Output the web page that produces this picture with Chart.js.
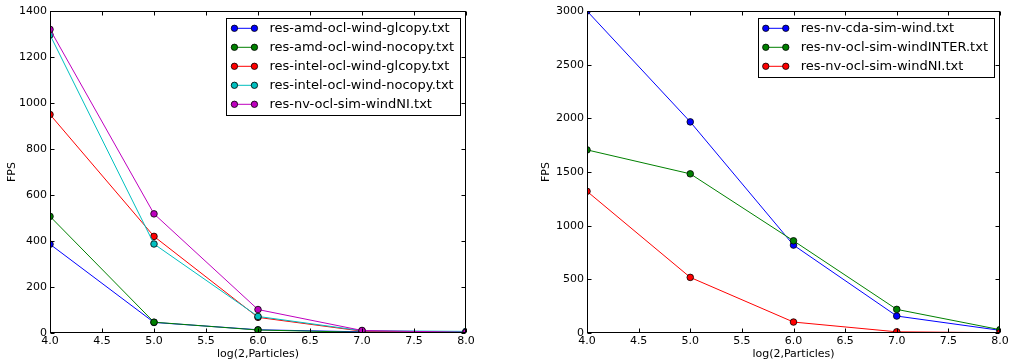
<!DOCTYPE html>
<html>
<head>
<meta charset="utf-8">
<script src="https://cdn.jsdelivr.net/npm/chart.js@4.4.1/dist/chart.umd.min.js"></script>
<style>
  html, body { margin: 0; padding: 0; background: #fff; }
  #wrap { position: relative; width: 1015px; height: 364px; overflow: hidden; }
  canvas { position: absolute; top: 0; }
  #c1 { left: 0; }
  #c2 { left: 520px; }
</style>
</head>
<body>
<div id="wrap">
  <canvas id="c1" width="480" height="364"></canvas>
  <canvas id="c2" width="495" height="364"></canvas>
</div>
<script>
// log2 of particle count
const particleLog2 = [4, 5, 6, 7, 8];

// FPS per run file
const amdOclWindGlcopy   = [386, 46, 14, 5, 4];
const amdOclWindNocopy   = [507, 47, 13, 3, 3];
const intelOclWindGlcopy = [950, 420, 68, 8, 3];
const intelOclWindNocopy = [1296, 387, 72, 10, 7];
const nvOclSimWindNI     = [1320, 518, 102, 11, 3];
const nvCdaSimWind       = [3000, 1967, 819, 158, 25];
const nvOclSimWindINTER  = [1706, 1483, 859, 220, 31];

const leftLabels  = ['res-amd-ocl-wind-glcopy.txt', 'res-amd-ocl-wind-nocopy.txt',
                     'res-intel-ocl-wind-glcopy.txt', 'res-intel-ocl-wind-nocopy.txt',
                     'res-nv-ocl-sim-windNI.txt'];
const rightLabels = ['res-nv-cda-sim-wind.txt', 'res-nv-ocl-sim-windINTER.txt',
                     'res-nv-ocl-sim-windNI.txt'];

const xTicks = [4.0, 4.5, 5.0, 5.5, 6.0, 6.5, 7.0, 7.5, 8.0];
const leftYTicks  = [0, 200, 400, 600, 800, 1000, 1200, 1400];
const rightYTicks = [0, 500, 1000, 1500, 2000, 2500, 3000];

const BLUE = '#0000ff', GREEN = '#008000', RED = '#ff0000', CYAN = '#00bfbf', MAGENTA = '#bf00bf';
const FONT = 'DejaVu Sans';

function series(label, values, color, i) {
  return {
    label,
    data: values.map((v, k) => ({ x: particleLog2[k], y: v })),
    showLine: true,
    borderColor: color,
    backgroundColor: color,
    borderWidth: 1,
    pointRadius: 3.3,
    pointBorderColor: '#000',
    pointBorderWidth: 0.8,
    pointBackgroundColor: color,
    clip: 0,
    order: -i
  };
}

// Axes frame plus inward tick marks on all four sides
const frameTicks = {
  id: 'frameTicks',
  afterDatasetsDraw(chart) {
    const { ctx, chartArea: a, scales } = chart;
    ctx.save();
    ctx.strokeStyle = '#000';
    ctx.lineWidth = 1;
    const L = Math.round(a.left) + 0.5, R = Math.round(a.right) - 0.5;
    const T = Math.round(a.top) + 0.5, B = Math.round(a.bottom) - 0.5;
    ctx.beginPath();
    const len = 4;
    scales.x.ticks.forEach(t => {
      const px = Math.round(scales.x.getPixelForValue(t.value)) + 0.5;
      ctx.moveTo(px, B); ctx.lineTo(px, B - len);
      ctx.moveTo(px, T); ctx.lineTo(px, T + len);
    });
    scales.y.ticks.forEach(t => {
      const py = Math.round(scales.y.getPixelForValue(t.value)) + 0.5;
      ctx.moveTo(L, py); ctx.lineTo(L + len, py);
      ctx.moveTo(R, py); ctx.lineTo(R - len, py);
    });
    ctx.stroke();
    ctx.strokeRect(L, T, R - L, B - T);
    ctx.restore();
  }
};

// Boxed legend in the upper-right corner of the plot area
const boxLegend = {
  id: 'boxLegend',
  afterDraw(chart) {
    const { ctx, chartArea: a } = chart;
    const sets = chart.data.datasets;
    ctx.save();
    ctx.font = '13px "' + FONT + '"';
    const textW = Math.max(...sets.map(d => ctx.measureText(d.label).width));
    const padL = 8, lineLen = 20, gap = 15, padR = 6, rowH = 19;
    const w = padL + lineLen + gap + textW + padR;
    const h = rowH * sets.length + 1.5;
    const right = a.right - 6;
    const left = right - w;
    const top = a.top + 6.7;
    ctx.fillStyle = '#fff';
    ctx.fillRect(left, top, w, h);
    ctx.strokeStyle = '#000';
    ctx.lineWidth = 1;
    ctx.strokeRect(Math.round(left) + 0.5, Math.round(top) + 0.5, Math.round(w), Math.round(h));
    sets.forEach((d, i) => {
      const cy = top + 10.6 + i * rowH;
      const x0 = left + padL, x1 = x0 + lineLen;
      ctx.strokeStyle = d.borderColor;
      ctx.lineWidth = 1;
      ctx.beginPath(); ctx.moveTo(x0, cy); ctx.lineTo(x1, cy); ctx.stroke();
      [x0, x1].forEach(px => {
        ctx.beginPath();
        ctx.arc(px, cy, 3.2, 0, Math.PI * 2);
        ctx.fillStyle = d.borderColor; ctx.fill();
        ctx.strokeStyle = '#000'; ctx.lineWidth = 0.8; ctx.stroke();
      });
      ctx.fillStyle = '#000';
      ctx.textBaseline = 'middle';
      ctx.textAlign = 'left';
      ctx.fillText(d.label, x1 + gap, cy + 0.5);
    });
    ctx.restore();
  }
};

function makeChart(id, datasets, yTicks, yAxisWidth, titlePadLeft, rightPad) {
  const yMax = yTicks[yTicks.length - 1];
  return new Chart(document.getElementById(id), {
    type: 'scatter',
    data: { datasets },
    options: {
      responsive: false,
      animation: false,
      devicePixelRatio: 1,
      layout: { padding: { top: 11, right: rightPad, bottom: 0, left: 0 } },
      plugins: { legend: { display: false }, tooltip: { enabled: false } },
      scales: {
        x: {
          type: 'linear', min: xTicks[0], max: xTicks[xTicks.length - 1],
          afterBuildTicks: s => { s.ticks = xTicks.map(v => ({ value: v })); },
          afterFit: s => { s.height = 31; },
          grid: { display: false, drawTicks: false }, border: { display: false },
          ticks: { color: '#000', padding: 2, font: { family: FONT, size: 11 },
                   maxRotation: 0, autoSkip: false, callback: v => Number(v).toFixed(1) },
          title: { display: true, text: 'log(2,Particles)', color: '#000',
                   font: { family: FONT, size: 11 }, padding: { top: 0, bottom: 3 } }
        },
        y: {
          type: 'linear', min: 0, max: yMax,
          afterBuildTicks: s => { s.ticks = yTicks.map(v => ({ value: v })); },
          afterFit: s => { s.width = yAxisWidth; },
          grid: { display: false, drawTicks: false }, border: { display: false },
          ticks: { color: '#000', padding: 3, font: { family: FONT, size: 11 },
                   autoSkip: false, callback: v => String(v) },
          title: { display: true, text: 'FPS', color: '#000',
                   font: { family: FONT, size: 11 }, padding: { top: titlePadLeft, bottom: 0 } }
        }
      }
    },
    plugins: [frameTicks, boxLegend]
  });
}

makeChart('c1', [
  series(leftLabels[0], amdOclWindGlcopy, BLUE, 0),
  series(leftLabels[1], amdOclWindNocopy, GREEN, 1),
  series(leftLabels[2], intelOclWindGlcopy, RED, 2),
  series(leftLabels[3], intelOclWindNocopy, CYAN, 3),
  series(leftLabels[4], nvOclSimWindNI, MAGENTA, 4)
], leftYTicks, 50, 5.5, 14);

makeChart('c2', [
  series(rightLabels[0], nvCdaSimWind, BLUE, 0),
  series(rightLabels[1], nvOclSimWindINTER, GREEN, 1),
  series(rightLabels[2], nvOclSimWindNI, RED, 2)
], rightYTicks, 67, 20, 15);
</script>
</body>
</html>
